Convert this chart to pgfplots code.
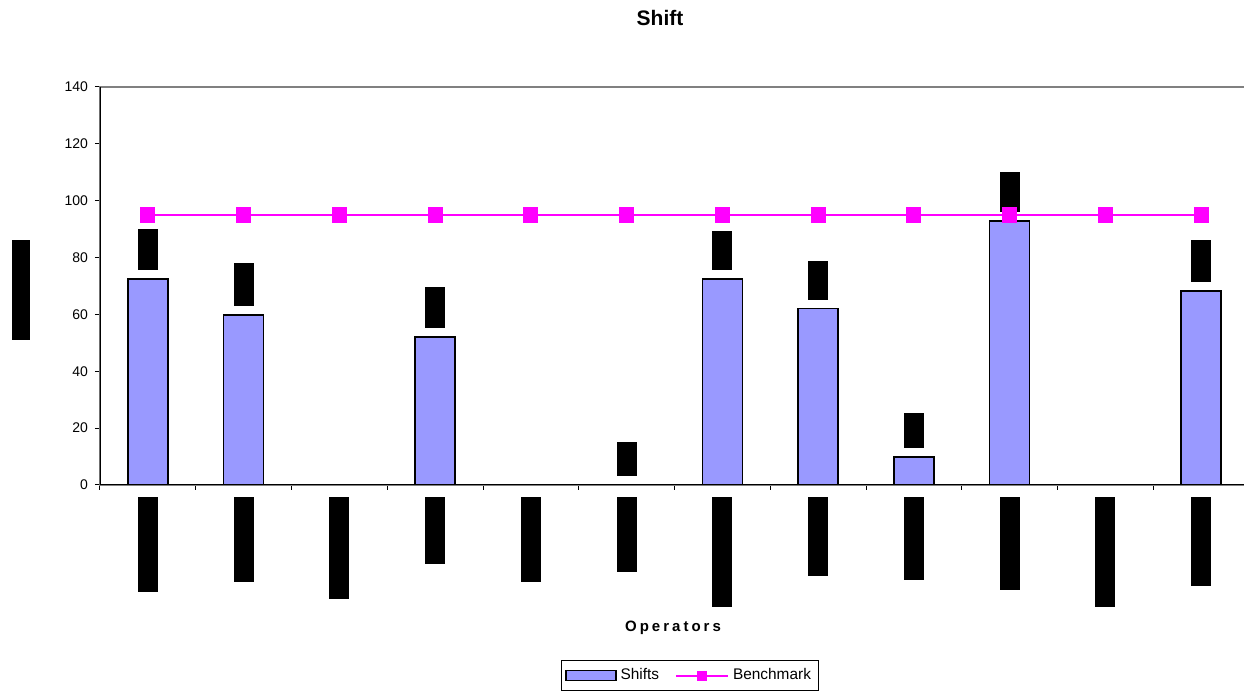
\documentclass[border=0pt]{standalone}
\usepackage{fontspec}
\setmainfont{Liberation Sans}
\usepackage{pgfplots}
\usepackage{pgfplotstable}
\pgfplotsset{compat=1.18}
\definecolor{barfill}{HTML}{9999FF}
\definecolor{bench}{HTML}{FF00FF}

\pgfplotstableread{
x y lh
0 72.5 20.5
1 59.8 21.5
2 0 0
3 52 20.5
4 0 0
5 0 17
6 72.5 19.5
7 62 19.5
8 9.8 17.5
9 92.9 20
10 0 0
11 68.2 21
}\shifts

\pgfplotstableread{
x y
0 95
1 95
2 95
3 95
4 95
5 95
6 95
7 95
8 95
9 95
10 95
11 95
}\bench

\begin{document}
\begin{tikzpicture}
\begin{axis}[
 at={(50pt,105.5pt)}, anchor=south west,
 scale only axis, width=574.5pt, height=199pt,
 xmin=-0.5, xmax=11.5, ymin=0, ymax=140,
 ytick={0,20,...,140},
 xtick={-0.5,0.5,...,11.5},
 xtick pos=bottom, ytick pos=left,
 x tick label as interval,
 xticklabels={\rule{10pt}{47.5pt},\rule{10pt}{42.5pt},\rule{10pt}{51pt},\rule{10pt}{33.5pt},\rule{10pt}{42.5pt},\rule{10pt}{37.5pt},\rule{10pt}{55pt},\rule{10pt}{39.5pt},\rule{10pt}{41.5pt},\rule{10pt}{46.5pt},\rule{10pt}{55pt},\rule{10pt}{44.5pt}},
 xticklabel style={anchor=north, inner sep=0pt, yshift=-3.5pt},
 tick align=outside, major tick length=2.5pt,
 tick style={black, line width=0.5pt},
 yticklabel style={font=\fontsize{7}{8}\selectfont, /pgf/number format/assume math mode=true},
 axis line style={draw=gray, line width=1pt},
 legend style={at={(0.5135,-0.4397)}, anchor=north, legend columns=2, draw=black, line width=0.5pt,
   font=\fontsize{7.7}{9}\selectfont, inner sep=2pt,
   /tikz/every even column/.append style={column sep=6pt}},
]
\addplot[ybar, bar width=20pt, fill=barfill, draw=black, line width=0.75pt,
  visualization depends on={\thisrow{lh} \as \lh},
  nodes near coords={\rule{10pt}{\lh pt}},
  nodes near coords style={inner sep=0pt, yshift=4pt, anchor=south},
  legend image code/.code={\draw[fill=barfill,draw=black,line width=0.75pt] (0pt,-2.5pt) rectangle (25pt,2.5pt);}
] table[x=x,y=y] {\shifts};
\addlegendentry{Shifts}
\addplot[bench, line width=1pt, mark=square*, mark size=3.3pt, mark options={solid, fill=bench},
  legend image code/.code={\draw[bench,line width=1pt] (0pt,0pt)--(26pt,0pt); \fill[bench] (11pt,-2pt) rectangle (15pt,2pt);}
] table[x=x,y=y] {\bench};
\addlegendentry{Benchmark}
\draw[black, line width=0.75pt] (rel axis cs:0,1) -- (rel axis cs:0,0) -- (rel axis cs:1,0);
\end{axis}
\node[font=\bfseries\fontsize{10.5}{12}\selectfont] at (330pt,339pt) {Shift};
\node[font=\bfseries\fontsize{7.5}{9}\selectfont\addfontfeature{LetterSpace=20}] at (336.5pt,34pt) {Operators};
\fill[black] (6pt,178pt) rectangle (15pt,228pt);
\pgfresetboundingbox
\useasboundingbox (0,0) rectangle (622pt,348pt);
\end{tikzpicture}
\end{document}
